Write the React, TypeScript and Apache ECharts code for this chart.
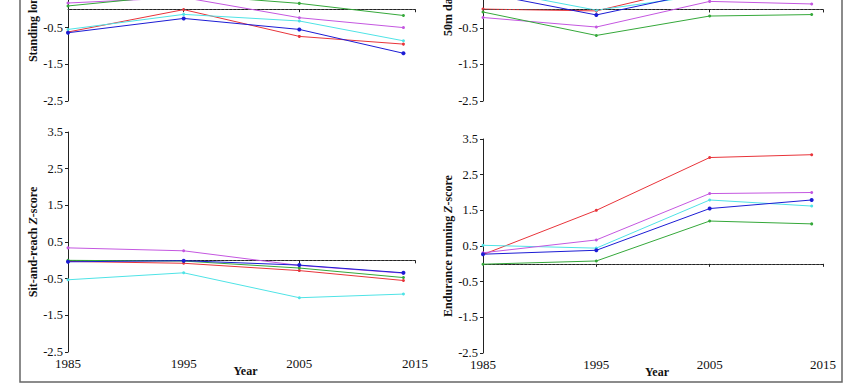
import React, { useEffect, useRef } from "react";
import * as echarts from "echarts";

const years = [1985, 1995, 2005, 2014];
const xTicks = [1985, 1995, 2005, 2015];
const yTicks = [-2.5, -1.5, -0.5, 0.5, 1.5, 2.5, 3.5];
const yTicksTop = [-2.5, -1.5, -0.5];

// Standing long jump
const sljRed = [-0.62, -0.01, -0.74, -0.95];
const sljCyan = [-0.55, -0.14, -0.32, -0.86];
const sljPurple = [0.17, 0.32, -0.23, -0.5];
const sljGreen = [0.09, 0.4, 0.16, -0.17];
const sljBlue = [-0.64, -0.25, -0.55, -1.2];

// 50m dash
const dashRed = [0.01, -0.04, 0.69, 0.72];
const dashCyan = [0.57, -0.02, 0.41, 0.45];
const dashPurple = [-0.22, -0.48, 0.22, 0.15];
const dashGreen = [-0.07, -0.71, -0.18, -0.14];
const dashBlue = [0.45, -0.15, 0.51, 0.55];

// Sit-and-reach
const sarRed = [-0.03, -0.08, -0.28, -0.55];
const sarCyan = [-0.53, -0.34, -1.02, -0.92];
const sarPurple = [0.34, 0.26, -0.14, -0.35];
const sarGreen = [0.0, -0.02, -0.21, -0.47];
const sarBlue = [-0.04, -0.01, -0.13, -0.34];

// Endurance running
const endRed = [0.26, 1.5, 2.98, 3.06];
const endCyan = [0.52, 0.44, 1.79, 1.62];
const endPurple = [0.31, 0.67, 1.97, 2.0];
const endGreen = [-0.01, 0.08, 1.2, 1.12];
const endBlue = [0.27, 0.38, 1.55, 1.79];

const panelNames = [
  "{b|Standing long jump }{i|Z}{b|-score}",
  "{b|50m dash }{i|Z}{b|-score}",
  "{b|Sit-and-reach }{i|Z}{b|-score}",
  "{b|Endurance running }{i|Z}{b|-score}",
];

const RED = "#e8343a";
const CYAN = "#4fe3e6";
const PURPLE = "#c457e0";
const GREEN = "#35a83a";
const BLUE = "#1c1cd4";

const FONT = "Liberation Serif";

export default function App() {
  const ref = useRef<HTMLDivElement>(null);
  useEffect(() => {
    if (!ref.current) return;
    const chart = echarts.init(ref.current, null, { renderer: "svg" });

    // visible part of top panels: top edge of page corresponds to ~0.25
    const grids = [
      { left: 68, top: 0, width: 347, height: 101, outerBoundsMode: "none", containLabel: false },
      { left: 483, top: 0, width: 340, height: 101, outerBoundsMode: "none", containLabel: false },
      { left: 68, top: 132, width: 347, height: 220, outerBoundsMode: "none", containLabel: false },
      { left: 483, top: 139, width: 340, height: 214, outerBoundsMode: "none", containLabel: false },
    ];
    const yMaxs = [0.252, 0.258, 3.5, 3.5];
    const nameCenters = [
      [33, -9],
      [448, -9],
      [33, 242],
      [448, 246],
    ];

    const panelData = [
      [sljRed, sljCyan, sljPurple, sljGreen, sljBlue],
      [dashRed, dashCyan, dashPurple, dashGreen, dashBlue],
      [sarRed, sarCyan, sarPurple, sarGreen, sarBlue],
      [endRed, endCyan, endPurple, endGreen, endBlue],
    ];
    const colors = [RED, CYAN, PURPLE, GREEN, BLUE];

    const axisLine = { show: true, lineStyle: { color: "#222", width: 1 } };

    const xAxis = grids.map((_, i) => ({
      type: "value",
      gridIndex: i,
      min: xTicks[0],
      max: xTicks[xTicks.length - 1],
      interval: 10,
      axisLine,
      axisTick: { show: true, inside: false, length: 3, lineStyle: { color: "#222" } },
      splitLine: { show: false },
      axisLabel: {
        show: i >= 2,
        formatter: (v: number) => String(v),
        fontFamily: FONT,
        fontSize: 13,
        color: "#111",
        margin: 5,
      },
      name: i >= 2 ? "Year" : "",
      nameLocation: "middle",
      nameGap: 13,
      nameMoveOverlap: false,
      nameTextStyle: {
        fontFamily: FONT,
        fontWeight: "bold",
        fontSize: 12,
        color: "#111",
        padding: [0, 0, 0, 8],
      },
    }));

    const yAxis = grids.map((_, i) => {
      const ticks = i < 2 ? yTicksTop : yTicks;
      return {
        type: "value",
        gridIndex: i,
        min: yTicks[0],
        max: yMaxs[i],
        axisLine,
        axisTick: {
          show: true,
          inside: false,
          length: 3,
          lineStyle: { color: "#222" },
          customValues: ticks,
        },
        splitLine: { show: false },
        axisLabel: {
          customValues: ticks,
          formatter: (v: number) => v.toFixed(1),
          fontFamily: FONT,
          fontSize: 12.5,
          color: "#111",
          margin: 5,
        },
      };
    });

    const series: any[] = [];
    panelData.forEach((group, gi) => {
      group.forEach((vals, si) => {
        series.push({
          type: "line",
          xAxisIndex: gi,
          yAxisIndex: gi,
          data: years.map((y, k) => [y, vals[k]]),
          symbol: "circle",
          symbolSize: si === 4 ? 4 : 3,
          showSymbol: true,
          lineStyle: { color: colors[si], width: 1 },
          itemStyle: { color: colors[si] },
          clip: true,
          z: 3 + si,
          markLine:
            si === 0
              ? {
                  silent: true,
                  symbol: "none",
                  label: { show: false },
                  lineStyle: { type: [1.5, 2.5], color: "#555", width: 1 },
                  data: [{ yAxis: 0 }],
                }
              : undefined,
        });
      });
    });

    const rich = {
      b: { fontFamily: FONT, fontWeight: "bold", fontSize: 12, fill: "#111", color: "#111" },
      i: { fontFamily: FONT, fontWeight: "bold", fontStyle: "italic", fontSize: 12, fill: "#111", color: "#111" },
    };

    const nameGraphics = panelNames.map((t, i) => ({
      type: "text",
      x: nameCenters[i][0],
      y: nameCenters[i][1],
      rotation: Math.PI / 2,
      silent: true,
      style: {
        text: t,
        rich,
        align: "center",
        verticalAlign: "middle",
        fontFamily: FONT,
        fontWeight: "bold",
        fontSize: 12,
        fill: "#111",
      },
    }));

    chart.setOption({
      animation: false,
      backgroundColor: "#fff",
      grid: grids,
      xAxis,
      yAxis,
      series,
      graphic: [
        {
          type: "rect",
          shape: { x: 20, y: -10, width: 822, height: 392 },
          style: { fill: "none", stroke: "#666", lineWidth: 1.5 },
          silent: true,
        },
        ...nameGraphics,
      ],
    });
    return () => chart.dispose();
  }, []);
  return <div ref={ref} style={{ width: 850, height: 387, position: "absolute", left: 0, top: 0 }} />;
}
